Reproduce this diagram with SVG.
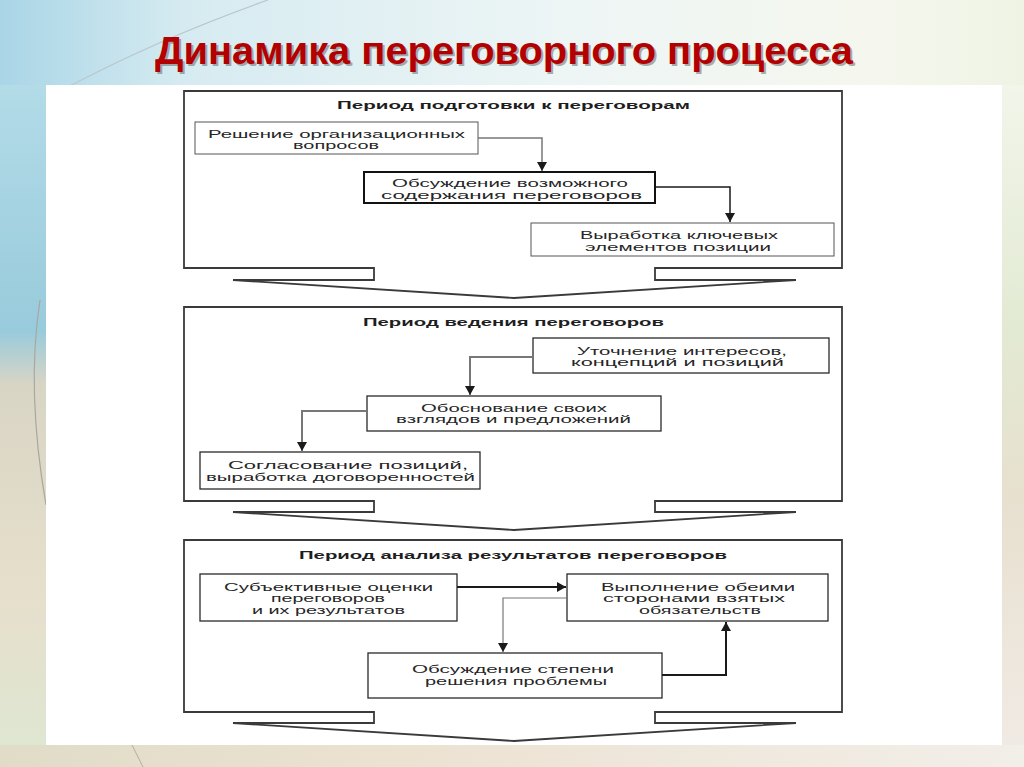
<svg xmlns="http://www.w3.org/2000/svg" width="1024" height="767" viewBox="0 0 1024 767">
<style>
.panel{fill:#fff;stroke:#3a3a3a;stroke-width:1.8;stroke-linejoin:miter}
.box{fill:#fff;stroke:#2a2a2a;stroke-width:1.3}
.boxb{fill:#fff;stroke:#111;stroke-width:2}
.boxl{fill:#fff;stroke:#555;stroke-width:1}
.t{font-family:"Liberation Sans",Arial,sans-serif;font-size:11px;fill:#262626;text-anchor:middle}
.pt{font-family:"Liberation Sans",Arial,sans-serif;font-size:11px;font-weight:bold;fill:#1e1e1e;text-anchor:middle}
.cg{fill:none;stroke:#777;stroke-width:1.5}
.ck{fill:none;stroke:#1a1a1a;stroke-width:2}
</style>
<defs>
<linearGradient id="bgTop" x1="0" y1="0" x2="1" y2="0">
<stop offset="0" stop-color="#a9d5e6"/>
<stop offset="0.18" stop-color="#d6ebf1"/>
<stop offset="0.55" stop-color="#edf5f5"/>
<stop offset="0.85" stop-color="#f5f7ee"/>
<stop offset="1" stop-color="#eff3e4"/>
</linearGradient>
<linearGradient id="bgLeft" x1="0" y1="0" x2="0" y2="1">
<stop offset="0" stop-color="#b3dbe8"/>
<stop offset="0.36" stop-color="#98cbdc"/>
<stop offset="0.44" stop-color="#d9d5c4"/>
<stop offset="0.75" stop-color="#e6dfcc"/>
<stop offset="1" stop-color="#dde7d2"/>
</linearGradient>
<linearGradient id="bgRight" x1="0" y1="0" x2="0" y2="1">
<stop offset="0" stop-color="#f2f5ea"/>
<stop offset="0.35" stop-color="#e2ead3"/>
<stop offset="0.6" stop-color="#e7e0cf"/>
<stop offset="1" stop-color="#f1ebe6"/>
</linearGradient>
<linearGradient id="bgBottom" x1="0" y1="0" x2="1" y2="0">
<stop offset="0" stop-color="#e0dcc8"/>
<stop offset="0.4" stop-color="#ece2d2"/>
<stop offset="1" stop-color="#f2eee8"/>
</linearGradient>
<marker id="ah" viewBox="0 -5 10 10" refX="9" refY="0" markerWidth="10" markerHeight="10" markerUnits="userSpaceOnUse" orient="auto">
<path d="M0,-5 L9,0 L0,5 Z" fill="#1a1a1a"/>
</marker>
</defs>

<g id="background">
<rect x="0" y="0" width="1024" height="767" fill="url(#bgTop)"/>
<rect x="0" y="85" width="46" height="682" fill="url(#bgLeft)"/>
<rect x="1002" y="85" width="22" height="682" fill="url(#bgRight)"/>
<rect x="0" y="745" width="1024" height="22" fill="url(#bgBottom)"/>
<path d="M268,0 Q160,38 62,90" fill="none" stroke="#b9c7cc" stroke-width="1.2"/>
<path d="M40,300 Q26,390 46,505" fill="none" stroke="#a9a7a0" stroke-width="1.2"/>
<path d="M132,745 L143,767" fill="none" stroke="#b5ada0" stroke-width="1"/>
<rect x="46" y="85" width="956" height="660" fill="#fff"/>
</g>

<g id="title">
<text x="157" y="66" font-family="'Liberation Sans Narrow','Liberation Sans',Arial,sans-serif" font-size="38" font-weight="bold" fill="#6a6a6a" fill-opacity="0.55" textLength="698" lengthAdjust="spacingAndGlyphs">Динамика переговорного процесса</text>
<text x="155" y="64" font-family="'Liberation Sans Narrow','Liberation Sans',Arial,sans-serif" font-size="38" font-weight="bold" fill="#b30000" textLength="698" lengthAdjust="spacingAndGlyphs">Динамика переговорного процесса</text>
</g>

<g id="panel1">
<path class="panel" d="M184,91 H842 V268 H655 V280 H796 L514,298 L233,280 H374 V268 H184 Z"/>
<text class="pt" x="513.5" y="109" textLength="353" lengthAdjust="spacingAndGlyphs">Период подготовки к переговорам</text>
</g>
<g id="nodeA">
<rect class="boxl" x="195" y="122" width="283" height="32"/>
<text class="t" x="336.5" y="138" textLength="257" lengthAdjust="spacingAndGlyphs">Решение организационных</text>
<text class="t" x="336" y="149" textLength="86" lengthAdjust="spacingAndGlyphs">вопросов</text>
</g>
<g id="nodeB">
<rect class="boxb" x="364" y="172" width="291" height="31"/>
<text class="t" x="510" y="187" textLength="236" lengthAdjust="spacingAndGlyphs">Обсуждение возможного</text>
<text class="t" x="511.5" y="199" textLength="261" lengthAdjust="spacingAndGlyphs">содержания переговоров</text>
</g>
<g id="nodeC">
<rect class="boxl" x="531" y="223" width="303" height="33"/>
<text class="t" x="679" y="239" textLength="198" lengthAdjust="spacingAndGlyphs">Выработка ключевых</text>
<text class="t" x="678" y="251" textLength="186" lengthAdjust="spacingAndGlyphs">элементов позиции</text>
</g>

<g id="panel2">
<path class="panel" d="M184,307 H842 V501 H655 V512 H796 L514,530 L233,512 H374 V501 H184 Z"/>
<text class="pt" x="513.5" y="326" textLength="301" lengthAdjust="spacingAndGlyphs">Период ведения переговоров</text>
</g>
<g id="nodeD">
<rect class="box" x="533" y="338" width="296" height="35"/>
<text class="t" x="682" y="355" textLength="210" lengthAdjust="spacingAndGlyphs">Уточнение интересов,</text>
<text class="t" x="677.5" y="366" textLength="213" lengthAdjust="spacingAndGlyphs">концепций и позиций</text>
</g>
<g id="nodeE">
<rect class="box" x="367" y="396" width="294" height="35"/>
<text class="t" x="514" y="412" textLength="186" lengthAdjust="spacingAndGlyphs">Обоснование своих</text>
<text class="t" x="513.5" y="423" textLength="235" lengthAdjust="spacingAndGlyphs">взглядов и предложений</text>
</g>
<g id="nodeF">
<rect class="box" x="200" y="452" width="280" height="37"/>
<text class="t" x="348" y="469" textLength="240" lengthAdjust="spacingAndGlyphs">Согласование позиций,</text>
<text class="t" x="340.5" y="481" textLength="269" lengthAdjust="spacingAndGlyphs">выработка договоренностей</text>
</g>

<g id="panel3">
<path class="panel" d="M184,540 H842 V712 H655 V723 H796 L514,741 L233,723 H374 V712 H184 Z"/>
<text class="pt" x="513" y="559" textLength="428" lengthAdjust="spacingAndGlyphs">Период анализа результатов переговоров</text>
</g>
<g id="nodeG">
<rect class="box" x="200" y="574" width="257" height="47"/>
<text class="t" x="328.5" y="591" textLength="209" lengthAdjust="spacingAndGlyphs">Субъективные оценки</text>
<text class="t" x="328" y="602" textLength="114" lengthAdjust="spacingAndGlyphs">переговоров</text>
<text class="t" x="328.5" y="614" textLength="153" lengthAdjust="spacingAndGlyphs">и их результатов</text>
</g>
<g id="nodeH">
<rect class="box" x="567" y="574" width="261" height="47"/>
<text class="t" x="698" y="591" textLength="194" lengthAdjust="spacingAndGlyphs">Выполнение обеими</text>
<text class="t" x="694" y="602" textLength="182" lengthAdjust="spacingAndGlyphs">сторонами взятых</text>
<text class="t" x="700" y="614" textLength="122" lengthAdjust="spacingAndGlyphs">обязательств</text>
</g>
<g id="nodeI">
<rect class="box" x="368" y="653" width="294" height="45"/>
<text class="t" x="513" y="673" textLength="202" lengthAdjust="spacingAndGlyphs">Обсуждение степени</text>
<text class="t" x="516" y="685" textLength="182" lengthAdjust="spacingAndGlyphs">решения проблемы</text>
</g>

<g id="connectors">
<path class="cg" d="M478,138 H542 V171" marker-end="url(#ah)"/>
<path class="ck" style="stroke-width:1.5" d="M655,187 H730 V222" marker-end="url(#ah)"/>
<path class="cg" style="stroke-width:2" d="M533,357 H470 V395" marker-end="url(#ah)"/>
<path class="cg" style="stroke-width:2" d="M367,411 H302 V451" marker-end="url(#ah)"/>
<path class="ck" d="M457,587 H566" marker-end="url(#ah)"/>
<path class="cg" style="stroke-width:1.2" d="M567,598 H503 V652" marker-end="url(#ah)"/>
<path class="ck" d="M662,675 H726 V622" marker-end="url(#ah)"/>
</g>
</svg>
